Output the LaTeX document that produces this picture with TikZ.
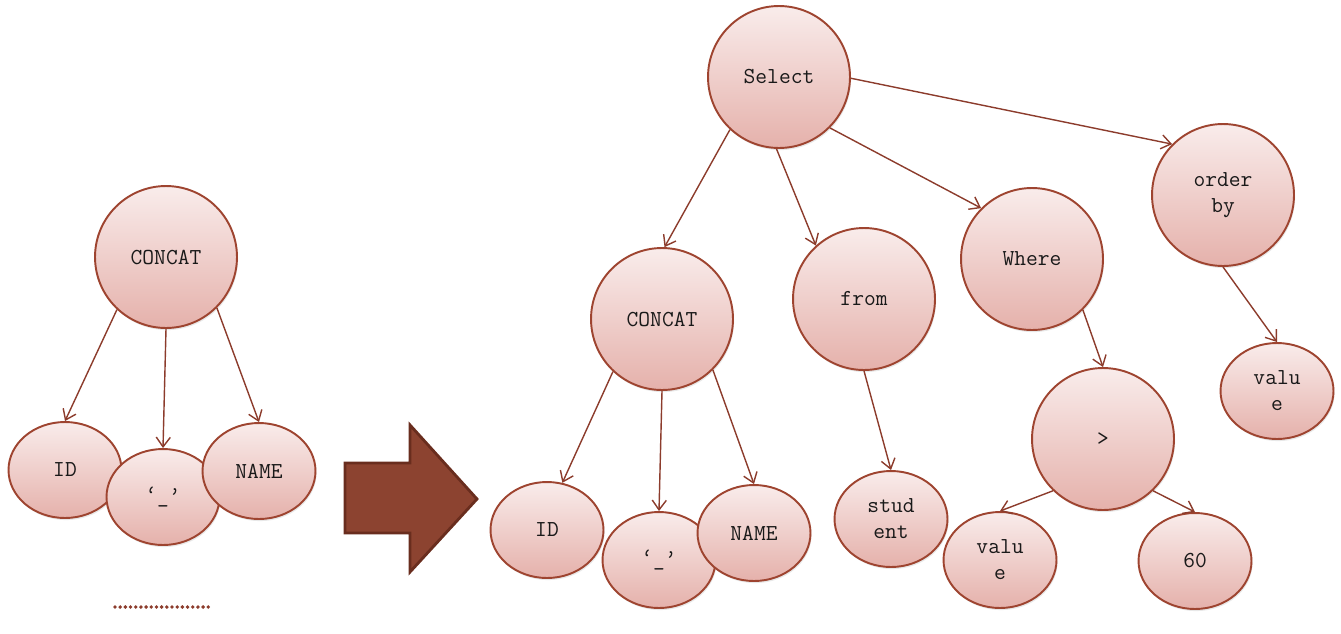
\documentclass[tikz,border=0pt]{standalone}
\usepackage{xcolor}
\usepackage{tikz}
\usetikzlibrary{shapes.geometric, arrows.meta, shadows}

\definecolor{nodeedge}{RGB}{158,68,48}
\definecolor{nodetop}{RGB}{249,236,235}
\definecolor{nodebottom}{RGB}{229,177,171}
\definecolor{linkcolor}{RGB}{140,60,44}
\definecolor{bigfill}{RGB}{140,67,48}
\definecolor{bigedge}{RGB}{105,45,30}

\begin{document}
\begin{tikzpicture}[
    x=0.02cm, y=-0.02cm,
    treenode/.style={draw=nodeedge, line width=1.1pt, top color=nodetop, bottom color=nodebottom,
        drop shadow={shadow xshift=0.6pt, shadow yshift=-1.2pt, opacity=0.18},
        font=\ttfamily\fontsize{13}{14.8}\selectfont, text=black!90, align=center, inner sep=0pt},
    bignode/.style={treenode, circle, minimum size=2.84cm},
    leafnode/.style={treenode, ellipse, minimum width=2.26cm, minimum height=1.92cm},
    arrow/.style={->, >={Straight Barb[length=5.5pt,width=8pt]}, draw=linkcolor, line width=0.8pt}
]
\useasboundingbox (0,0) rectangle (1341,633);

% left tree
\node[bignode] (concatA) at (166,257) {CONCAT};
\node[leafnode] (idA) at (65,470) {ID};
\node[leafnode] (sepA) at (163,497) {‘\_’};
\node[leafnode] (nameA) at (259,471) {NAME};

\draw[arrow] (concatA.227) -- (idA.north);
\draw[arrow] (concatA.south) -- (sepA.north);
\draw[arrow] (concatA.315) -- (nameA.north);

\draw[linkcolor, line width=2.2pt, line cap=round, dash pattern=on 0pt off 2.95pt] (115,607) -- (209,607);

% big arrow
\draw[fill=bigfill, draw=bigedge, line width=1.6pt, line join=miter]
    (345,463) -- (410,463) -- (410,425) -- (477,499) -- (410,572) -- (410,533) -- (345,533) -- cycle;

% right tree
\node[bignode] (select) at (779,77) {Select};
\node[bignode] (concatB) at (662,319) {CONCAT};
\node[bignode] (from) at (864,299) {from};
\node[bignode] (where) at (1032,259) {Where};
\node[bignode] (orderby) at (1223,195) {order\\by};
\node[leafnode] (idB) at (547,530) {ID};
\node[leafnode] (sepB) at (659,560) {‘\_’};
\node[leafnode] (nameB) at (754,533) {NAME};
\node[leafnode] (student) at (891,519) {stud\\ent};
\node[bignode] (greater) at (1103,439) {>};
\node[leafnode] (valueA) at (1000,560) {valu\\e};
\node[leafnode] (sixty) at (1195,561) {60};
\node[leafnode] (valueB) at (1277,391) {valu\\e};

\draw[arrow] (select.227) -- (concatB.88);
\draw[arrow] (select.268) -- (from.132);
\draw[arrow] (select.315) -- (where.135);
\draw[arrow] (select.359) -- (orderby.135);
\draw[arrow] (concatB.227) -- (idB.72);
\draw[arrow] (concatB.south) -- (sepB.north);
\draw[arrow] (concatB.315) -- (nameB.north);
\draw[arrow] (from.south) -- (student.north);
\draw[arrow] (where.315) -- (greater.north);
\draw[arrow] (orderby.south) -- (valueB.north);
\draw[arrow] (greater.226) -- (valueA.north);
\draw[arrow] (greater.314) -- (sixty.north);

\end{tikzpicture}
\end{document}
